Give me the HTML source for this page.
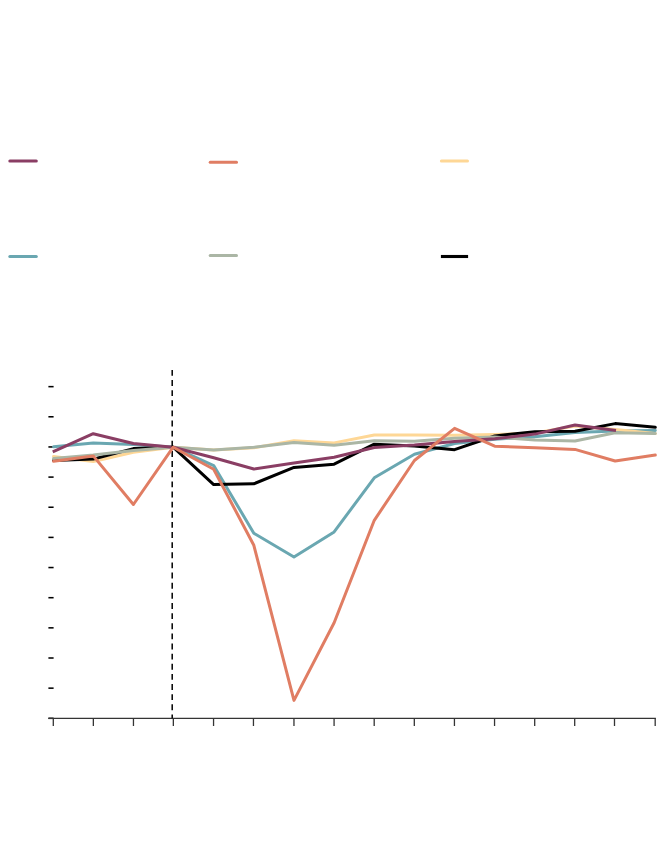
<!DOCTYPE html>
<html lang="en">
<head>
<meta charset="utf-8">
<title>Chart</title>
<style>
html,body{margin:0;padding:0;background:#fff;}
body{width:670px;height:868px;overflow:hidden;font-family:"Liberation Sans",sans-serif;}
svg{display:block;}
.s{fill:none;stroke-width:3;stroke-linecap:round;stroke-linejoin:round;}
.k{fill:none;stroke-width:3;stroke-linecap:round;}
</style>
</head>
<body>
<svg width="670" height="868" viewBox="0 0 670 868">
<rect x="0" y="0" width="670" height="868" fill="#ffffff"/>
<!-- legend keys -->
<g>
<line class="k" x1="9.8" y1="160.9" x2="36.3" y2="160.9" stroke="#8a3e64"/>
<line class="k" x1="210.2" y1="162.3" x2="236.5" y2="162.3" stroke="#e07d63"/>
<line class="k" x1="441.4" y1="160.9" x2="467.5" y2="160.9" stroke="#fed796"/>
<line class="k" x1="9.8" y1="256.5" x2="36.3" y2="256.5" stroke="#6aa7b1"/>
<line class="k" x1="210.2" y1="255.4" x2="236.5" y2="255.4" stroke="#abb6a5"/>
<line x1="440.9" y1="256.5" x2="468.1" y2="256.5" stroke="#000" stroke-width="3.1"/>
</g>
<!-- y ticks -->
<g stroke="#000" stroke-width="1.55" stroke-linecap="butt">
<line x1="48.4" y1="386.65" x2="53.6" y2="386.65"/>
<line x1="48.4" y1="416.80" x2="53.6" y2="416.80"/>
<line x1="48.4" y1="446.95" x2="53.6" y2="446.95"/>
<line x1="48.4" y1="477.10" x2="53.6" y2="477.10"/>
<line x1="48.4" y1="507.25" x2="53.6" y2="507.25"/>
<line x1="48.4" y1="537.40" x2="53.6" y2="537.40"/>
<line x1="48.4" y1="567.55" x2="53.6" y2="567.55"/>
<line x1="48.4" y1="597.70" x2="53.6" y2="597.70"/>
<line x1="48.4" y1="627.85" x2="53.6" y2="627.85"/>
<line x1="48.4" y1="658.00" x2="53.6" y2="658.00"/>
<line x1="48.4" y1="688.15" x2="53.6" y2="688.15"/>
<line x1="48.4" y1="718.30" x2="53.6" y2="718.30"/>
</g>
<g stroke="#343434" stroke-width="1.3">
<line x1="48.4" y1="718.28" x2="655.9" y2="718.28"/>
<line x1="53.30" y1="718.3" x2="53.30" y2="726"/>
<line x1="93.35" y1="718.3" x2="93.35" y2="726"/>
<line x1="133.45" y1="718.3" x2="133.45" y2="726"/>
<line x1="173.35" y1="718.3" x2="173.35" y2="726"/>
<line x1="213.55" y1="718.3" x2="213.55" y2="726"/>
<line x1="253.45" y1="718.3" x2="253.45" y2="726"/>
<line x1="293.96" y1="718.3" x2="293.96" y2="726"/>
<line x1="334.08" y1="718.3" x2="334.08" y2="726"/>
<line x1="374.20" y1="718.3" x2="374.20" y2="726"/>
<line x1="414.31" y1="718.3" x2="414.31" y2="726"/>
<line x1="454.43" y1="718.3" x2="454.43" y2="726"/>
<line x1="494.55" y1="718.3" x2="494.55" y2="726"/>
<line x1="534.70" y1="718.3" x2="534.70" y2="726"/>
<line x1="574.70" y1="718.3" x2="574.70" y2="726"/>
<line x1="614.50" y1="718.3" x2="614.50" y2="726"/>
<line x1="655.20" y1="718.3" x2="655.20" y2="726"/>
</g>
<polyline class="s" stroke="#6aa7b1" points="53.55,446.8 93.25,443.0 133.39,444.6 173.20,447.2 213.69,465.6 253.83,533.2 293.98,557.0 334.13,531.9 374.28,477.8 414.42,454.3 454.57,443.5 494.72,439.3 534.86,436.8 575.01,432.5 615.16,431.1 655.30,430.4"/>
<polyline class="s" stroke="#fed796" points="53.55,456.4 93.25,461.5 133.39,452.3 173.20,447.2 213.69,450.0 253.83,447.8 293.98,440.7 334.13,442.9 374.28,435.0 414.42,435.0 454.57,435.3 494.72,434.5 534.86,433.0 575.01,426.1 615.16,429.5 655.30,433.5"/>
<polyline class="s" stroke="#000000" points="53.55,460.5 93.25,459.1 133.39,448.6 173.20,447.2 213.69,484.6 253.83,483.8 293.98,467.4 334.13,464.2 374.28,444.2 414.42,446.0 454.57,449.7 494.72,436.0 534.86,431.7 575.01,431.2 615.16,423.6 655.30,427.3"/>
<polyline class="s" stroke="#abb6a5" points="53.55,458.4 93.25,455.0 133.39,450.4 173.20,447.2 213.69,450.0 253.83,447.2 293.98,442.4 334.13,445.3 374.28,440.8 414.42,441.2 454.57,438.2 494.72,437.0 534.86,440.1 575.01,441.0 615.16,432.8 655.30,433.5"/>
<polyline class="s" stroke="#8a3e64" points="52.73,451.8 93.25,433.7 133.39,443.5 173.20,447.2 213.69,457.8 253.83,469.0 293.98,463.0 334.13,457.2 374.28,447.5 414.42,445.1 454.57,441.4 494.72,438.7 534.86,434.1 575.01,425.0 616.00,430.5" style="stroke-linecap:butt"/>
<line x1="172.2" y1="369.9" x2="172.2" y2="718.3" stroke="#000" stroke-width="1.5" stroke-dasharray="5.9 4.235"/>
<polyline class="s" stroke="#e07d63" points="53.55,461.3 93.25,455.9 133.39,504.5 173.20,447.2 213.69,469.2 253.83,545.3 293.98,700.4 334.13,622.7 374.28,520.3 414.42,460.5 454.57,428.3 494.72,446.2 534.86,447.7 575.01,449.4 615.16,461.0 655.30,455.0"/>
</svg>
</body>
</html>
